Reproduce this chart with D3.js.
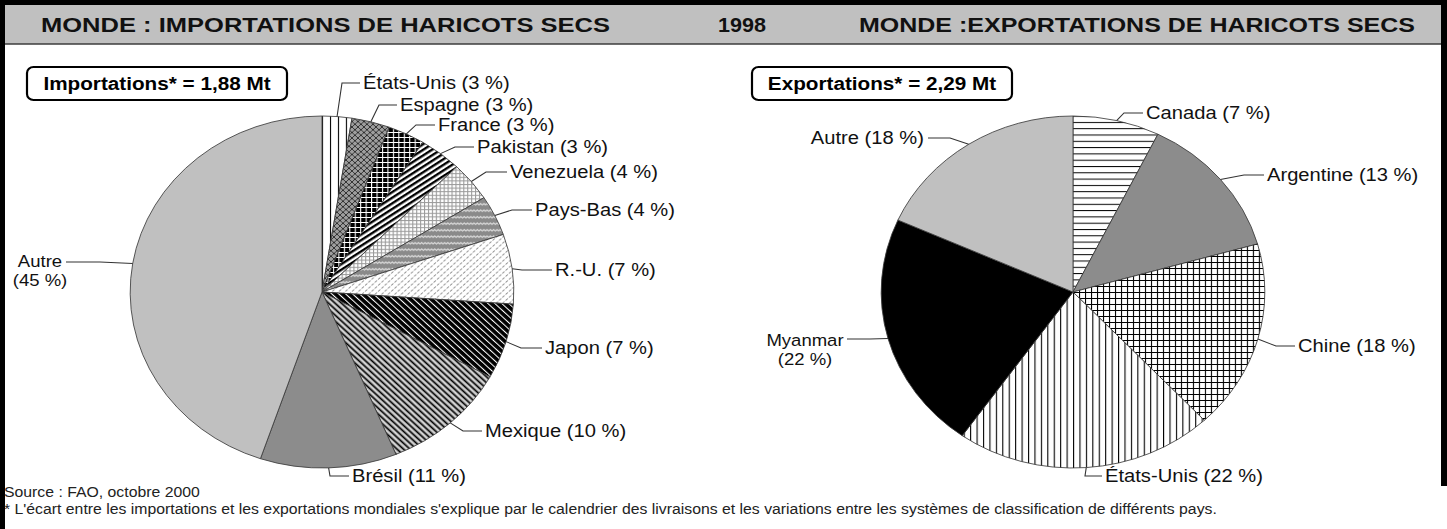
<!DOCTYPE html>
<html>
<head>
<meta charset="utf-8">
<script src="https://cdn.jsdelivr.net/npm/d3@7"></script>
<style>
html, body { margin: 0; padding: 0; background: #fff; }
svg { display: block; font-family: "Liberation Sans", Arial, sans-serif; }
</style>
</head>
<body>
<div id="vis"></div>
<script>
// data (shares in %, clockwise from 12 o'clock)
const importNames  = ["États-Unis", "Espagne", "France", "Pakistan", "Venezuela", "Pays-Bas", "R.-U.", "Japon", "Mexique", "Brésil", "Autre"];
const importValues = [2.5, 3.2, 3.1, 3.6, 3.6, 3.7, 6.4, 6.9, 10.7, 11.5, 44.8];
const importLabels = ["3 %", "3 %", "3 %", "3 %", "4 %", "4 %", "7 %", "7 %", "10 %", "11 %", "45 %"];

const exportNames  = ["Canada", "Argentine", "Chine", "États-Unis", "Myanmar", "Autre"];
const exportValues = [7.3, 13.3, 17.4, 21.8, 21.9, 18.3];
const exportLabels = ["7 %", "13 %", "18 %", "22 %", "22 %", "18 %"];

const importTotal = "Importations* = 1,88 Mt";
const exportTotal = "Exportations* = 2,29 Mt";
const year = "1998";
const source = "Source : FAO, octobre 2000";
const footnote = "* L'écart entre les importations et les exportations mondiales s'explique par le calendrier des livraisons et les variations entre les systèmes de classification de différents pays.";

// page setup: the original picture is stretched sideways, so we draw in a narrower
// coordinate space and let the viewBox widen it
const W = 1447, H = 529;
const S = 1.09;
const px = x => x / S;
const R = 176;

const svg = d3.select('#vis')
    .append('svg')
    .attr('width', W)
    .attr('height', H)
    .attr('viewBox', `0 0 ${W / S} ${H}`)
    .attr('preserveAspectRatio', 'none');

const defs = svg.append('defs');

function pattern(id, w, h, bg, rot) {
    const p = defs.append('pattern')
        .attr('id', id)
        .attr('patternUnits', 'userSpaceOnUse')
        .attr('width', w)
        .attr('height', h);
    if (rot) p.attr('patternTransform', `rotate(${rot})`);
    p.append('rect').attr('width', w).attr('height', h).attr('fill', bg);
    return p;
}

// fill patterns
pattern('vl-wide', 7.3, 4, '#fff').append('rect').attr('width', 1).attr('height', 4).attr('fill', '#000');
pattern('diamond', 5.5, 5.5, '#9e9e9e').append('path')
    .attr('d', 'M0,0L5.5,5.5M5.5,0L0,5.5').attr('stroke', '#1e1e1e').attr('stroke-width', 0.8);
let p = pattern('grid-wb', 5, 5, '#000');
p.append('rect').attr('width', 5).attr('height', 1).attr('fill', '#fff');
p.append('rect').attr('width', 1).attr('height', 5).attr('fill', '#fff');
pattern('stripes-up', 4, 4.6, '#fff', -35).append('rect').attr('width', 4).attr('height', 2.3).attr('fill', '#000');
p = pattern('smallgrid', 3.6, 3.6, '#fff');
p.append('rect').attr('width', 3.6).attr('height', 1).attr('fill', '#9a9a9a');
p.append('rect').attr('width', 1).attr('height', 3.6).attr('fill', '#9a9a9a');
pattern('zigzag', 6, 6.5, '#8a8a8a').append('path')
    .attr('d', 'M0,4L1.5,2.5L3,4L4.5,2.5L6,4').attr('fill', 'none').attr('stroke', '#eee').attr('stroke-width', 0.9);
pattern('dashes', 6, 6, '#fff').append('path')
    .attr('d', 'M0.5,2.5L2.5,0.5M3.5,5.5L5.5,3.5').attr('stroke', '#888').attr('stroke-width', 1);
pattern('diag-wb', 4.5, 4.5, '#000', -45).append('rect').attr('width', 1).attr('height', 4.5).attr('fill', '#fff');
p = pattern('mex', 4.2, 4.2, '#8a8a8a', -45);
p.append('rect').attr('width', 1.1).attr('height', 4.2).attr('fill', '#000');
p.append('rect').attr('x', 2.1).attr('width', 1).attr('height', 4.2).attr('fill', '#fff');
pattern('hl', 6, 6.3, '#fff').append('rect').attr('width', 6).attr('height', 1).attr('fill', '#000');
p = pattern('grid-bw', 5.5, 6, '#fff');
p.append('rect').attr('width', 5.5).attr('height', 1).attr('fill', '#000');
p.append('rect').attr('width', 1).attr('height', 6).attr('fill', '#000');
pattern('vl-narrow', 5.9, 4, '#fff').append('rect').attr('width', 1).attr('height', 4).attr('fill', '#000');

const importFills = ['url(#vl-wide)', 'url(#diamond)', 'url(#grid-wb)', 'url(#stripes-up)', 'url(#smallgrid)',
    'url(#zigzag)', 'url(#dashes)', 'url(#diag-wb)', 'url(#mex)', '#8c8c8c', '#c0c0c0'];
const exportFills = ['url(#hl)', '#8c8c8c', 'url(#grid-bw)', 'url(#vl-narrow)', '#000', '#c0c0c0'];

// label placement (picture pixels): text position, bend of the leader, leader end
const importLayout = [
    {tx: 363, ty: 83,  bx: 342, lx: 360},
    {tx: 400, ty: 105, bx: 379, lx: 397},
    {tx: 438, ty: 125, bx: 416, lx: 435},
    {tx: 477, ty: 147, bx: 455, lx: 474},
    {tx: 510, ty: 172, bx: 486, lx: 507},
    {tx: 535, ty: 210, bx: 512, lx: 532},
    {tx: 555, ty: 270, bx: 522, lx: 552},
    {tx: 545, ty: 348, bx: 521, lx: 542},
    {tx: 485, ty: 431, bx: 463, lx: 482},
    {tx: 352, ty: 476, bx: 330, lx: 349},
    {tx: 40,  ty: 261, bx: 100, lx: 66, ly: 262, anchor: 'middle', split: true}
];
const exportLayout = [
    {tx: 1146, ty: 113, bx: 1124, lx: 1143},
    {tx: 1267, ty: 175, bx: 1244, lx: 1264},
    {tx: 1298, ty: 346, bx: 1276, lx: 1295},
    {tx: 1105, ty: 476, bx: 1085, lx: 1102},
    {tx: 805,  ty: 340, bx: 870,  lx: 847, ly: 339, anchor: 'middle', split: true},
    {tx: 924,  ty: 138, bx: 950,  lx: 928, anchor: 'end'}
];

// frame and header
svg.append('rect').attr('width', W / S).attr('height', H).attr('fill', '#fff');
svg.append('rect').attr('x', 0).attr('y', 5).attr('width', W / S).attr('height', 39).attr('fill', '#c0c0c0');
svg.append('line').attr('x1', 0).attr('x2', W / S).attr('y1', 44).attr('y2', 44)
    .attr('stroke', '#3c3c3c').attr('stroke-width', 1.5);
svg.append('rect').attr('width', W / S).attr('height', 5).attr('fill', '#000');
svg.append('rect').attr('width', px(5)).attr('height', H).attr('fill', '#000');
svg.append('rect').attr('x', px(1441)).attr('width', px(6)).attr('height', 486).attr('fill', '#000');

const header = [
    {text: "MONDE : IMPORTATIONS DE HARICOTS SECS", x: 41, w: 569},
    {text: year, x: 718, w: 48},
    {text: "MONDE :EXPORTATIONS DE HARICOTS SECS", x: 859, w: 556}
];
svg.selectAll('.head')
    .data(header)
    .join('text')
    .attr('class', 'head')
    .attr('x', d => px(d.x))
    .attr('y', 32)
    .attr('textLength', d => px(d.w))
    .attr('lengthAdjust', 'spacingAndGlyphs')
    .style('font-size', '21px')
    .style('font-weight', 'bold')
    .attr('fill', '#111')
    .text(d => d.text);

// total boxes
function totalBox(x, text) {
    svg.append('rect')
        .attr('x', px(x)).attr('y', 67)
        .attr('width', px(260)).attr('height', 33)
        .attr('rx', 6).attr('ry', 6)
        .attr('fill', '#fff').attr('stroke', '#000').attr('stroke-width', 2);
    svg.append('text')
        .attr('x', px(x + 130)).attr('y', 90)
        .attr('text-anchor', 'middle')
        .style('font-size', '19px')
        .style('font-weight', 'bold')
        .attr('fill', '#000')
        .text(text);
}
totalBox(27, importTotal);
totalBox(752, exportTotal);

function drawPie(cx, cy, names, values, labels, fills, layout) {
    const rows = names.map((n, i) => ({name: n, value: values[i], label: labels[i]}));
    const pie = d3.pie().sort(null).value(d => d.value);
    const arc = d3.arc().innerRadius(0).outerRadius(R);
    const arcs = pie(rows);

    const g = svg.append('g').attr('transform', `translate(${px(cx)},${cy})`);

    g.selectAll('.slice')
        .data(arcs)
        .join('path')
        .attr('class', 'slice')
        .attr('d', arc)
        .attr('fill', (d, i) => fills[i])
        .attr('stroke', '#3a3a3a')
        .attr('stroke-width', 0.8);

    // leader lines start on the rim at the middle of each slice
    const line = d3.line();
    arcs.forEach((d, i) => {
        const L = layout[i];
        const a = (d.startAngle + d.endAngle) / 2;
        const ex = R * Math.sin(a), ey = -R * Math.cos(a);
        const ly = (L.ly !== undefined ? L.ly : L.ty) - cy;
        g.append('path')
            .attr('d', line([[ex, ey], [px(L.bx) - px(cx), ly], [px(L.lx) - px(cx), ly]]))
            .attr('fill', 'none')
            .attr('stroke', '#333')
            .attr('stroke-width', 1);

        if (L.split) {
            // two separate lines of text
            [d.data.name, `(${d.data.label})`].forEach((s, k) => {
                svg.append('text')
                    .attr('x', px(L.tx))
                    .attr('y', L.ty + 6 + k * 19.5)
                    .attr('text-anchor', L.anchor)
                    .style('font-size', '17px')
                    .attr('fill', '#111')
                    .text(s);
            });
        } else {
            svg.append('text')
                .attr('x', px(L.tx))
                .attr('y', L.ty + 6.5)
                .attr('text-anchor', L.anchor || 'start')
                .style('font-size', '18.5px')
                .attr('fill', '#111')
                .text(`${d.data.name} (${d.data.label})`);
        }
    });
}

drawPie(322, 292, importNames, importValues, importLabels, importFills, importLayout);
drawPie(1073, 292, exportNames, exportValues, exportLabels, exportFills, exportLayout);

// footer
svg.append('text').attr('x', px(4)).attr('y', 497)
    .style('font-size', '14.5px').attr('fill', '#222').text(source);
svg.append('text').attr('x', px(4)).attr('y', 514)
    .style('font-size', '14.5px').attr('fill', '#222').text(footnote);
</script>
</body>
</html>
